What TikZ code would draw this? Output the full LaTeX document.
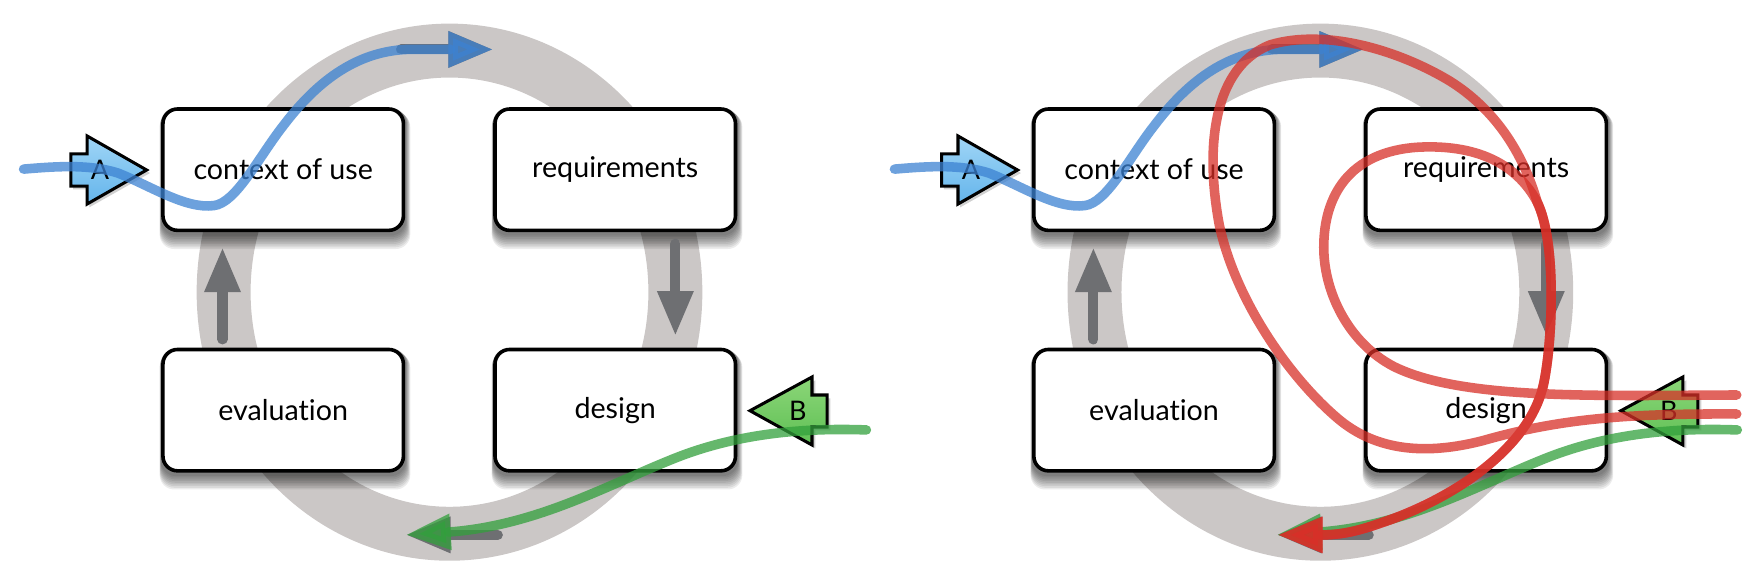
\documentclass[tikz,border=0pt]{standalone}
\usepackage{fontspec}
\setmainfont{Lato}[Ligatures=NoCommon]
\usetikzlibrary{arrows.meta}
\definecolor{ringgrey}{RGB}{203,199,198}
\definecolor{arrgrey}{RGB}{110,111,114}
\definecolor{flowblue}{RGB}{60,130,210}
\definecolor{flowgreen}{RGB}{50,160,60}
\definecolor{flowred}{RGB}{215,48,40}
\definecolor{mkbluetop}{RGB}{160,214,246}
\definecolor{mkbluebot}{RGB}{100,180,235}
\definecolor{mkgreentop}{RGB}{140,214,120}
\definecolor{mkgreenbot}{RGB}{95,192,85}
\pgfdeclarelayer{ringl}
\pgfdeclarelayer{shadowl}
\pgfsetlayers{ringl,shadowl,main}
\tikzset{
  ringst/.style={draw=ringgrey,line width=48pt},
  stagebox/.style={draw=black,line width=3.2pt,fill=white,rounded corners=13pt,
    minimum width=214pt,minimum height=108pt,inner sep=0pt,
    font=\fontsize{25.5pt}{29pt}\selectfont},
  cyc/.style={draw=arrgrey,line width=9pt,line cap=round,
    -{Triangle[length=40pt,width=30pt]}},
  flow/.style={line width=8.5pt,line cap=round,opacity=0.75,
    -{Triangle[length=40pt,width=30pt]}},
  marker/.style={draw=black,line width=2.7pt,line join=miter},
  mklabel/.style={inner sep=0pt,font=\fontsize{24pt}{27pt}\selectfont},
}
\begin{document}
\begin{tikzpicture}[x=1pt,y=-1pt]
\useasboundingbox (0,0) rectangle (1568,504.6);
\foreach \p/\dx in {L/0,R/775}{
\begin{scope}[xshift=\dx pt]
  % ring
  \begin{pgfonlayer}{ringl}
    \draw[ringst] (400,260) ellipse [x radius=201pt, y radius=215pt];
  \end{pgfonlayer}
  % cycle arrows
  \coordinate (t1\p) at (357,44);  \coordinate (t2\p) at (439,44);
  \coordinate (r1\p) at (601,217); \coordinate (r2\p) at (601,299);
  \coordinate (b1\p) at (443,476); \coordinate (b2\p) at (361,476);
  \coordinate (l1\p) at (198,302); \coordinate (l2\p) at (198,220);
  \draw[cyc] (t1\p) -- (t2\p);
  \draw[cyc] (r1\p) -- (r2\p);
  \draw[cyc] (b1\p) -- (b2\p);
  \draw[cyc] (l1\p) -- (l2\p);
  % boxes
  \node[stagebox] (ctx\p) at (252,151) {context of use};
  \node[stagebox] (req\p) at (547.5,151) {requirements};
  \node[stagebox] (eva\p) at (252,365) {evaluation};
  \node[stagebox] (des\p) at (547.5,365) {design};
  \begin{pgfonlayer}{shadowl}
    \foreach \n in {ctx\p,req\p,eva\p,des\p}{
      \foreach \k [evaluate=\k as \dy using 1.5+1.5*\k,
                   evaluate=\k as \ex using 0.5*\k] in {1,...,9}{
        \fill[black,opacity=0.075,rounded corners=13pt]
          ([xshift=-0.3*\ex pt,yshift=-\dy pt]\n.south west)
          rectangle ([xshift=\ex pt,yshift=-\ex pt]\n.north east);
      }
    }
  \end{pgfonlayer}
  % marker A
  \fill[black,opacity=0.18] (65,139.5) -- (79.5,139.5) -- (79.5,123.5) -- (133.5,154) --
     (79.5,184.5) -- (79.5,168.5) -- (65,168.5) -- cycle;
  \draw[marker,top color=mkbluetop,bottom color=mkbluebot]
     (63,137) -- (77.5,137) -- (77.5,121) -- (130.5,151.3) --
     (77.5,181.6) -- (77.5,165.6) -- (63,165.6) -- cycle;
  \node[mklabel] (A\p) at (89,151.3) {A};
  % marker B
  \fill[black,opacity=0.18] (670.4,368.5) -- (725.6,338.5) -- (725.6,354.5) -- (739,354.5) --
     (739,383) -- (725.6,383) -- (725.6,399) -- cycle;
  \draw[marker,top color=mkgreentop,bottom color=mkgreenbot]
     (667.4,365.5) -- (722.6,335.5) -- (722.6,351.5) -- (736,351.5) --
     (736,380) -- (722.6,380) -- (722.6,396) -- cycle;
  \node[mklabel] (B\p) at (710,366) {B};
  % blue flow
  \coordinate (bs\p) at (21,150.5);
  \draw[flow,draw=flowblue] (bs\p) .. controls (50,148) and (80,146) .. (105,154)
     .. controls (135,166) and (165,186) .. (190,183)
     .. controls (210,181) and (230,140) .. (252,112)
     .. controls (280,75) and (315,46) .. (362,44) -- (t2\p);
  % green flow
  \coordinate (gs\p) at (771,382.6);
  \draw[flow,draw=flowgreen] (gs\p) .. controls (700,380) and (645,390) .. (600,408)
     .. controls (540,432) and (480,466) .. (405,473) -- (b2\p);
\end{scope}
}
% red flows (right panel)
\coordinate (ra) at (1545.5,351.5);
\coordinate (rb) at (1545.5,368.4);
\coordinate (rt) at (1137,476);
\draw[flow,draw=flowred] (rb) .. controls (1450,368) and (1390,372) .. (1320,392)
   .. controls (1270,405) and (1225,402) .. (1190,372)
   .. controls (1150,338) and (1100,270) .. (1085,200)
   .. controls (1072,130) and (1080,60) .. (1130,40)
   .. controls (1180,25) and (1245,45) .. (1290,72)
   .. controls (1330,97) and (1355,135) .. (1368,180)
   .. controls (1385,215) and (1382,300) .. (1374,340)
   .. controls (1362,400) and (1290,445) .. (1230,465)
   .. controls (1210,472) and (1195,476) .. (1176,476) -- (rt);
\draw[flow,draw=flowred] (ra) .. controls (1420,352) and (1300,356) .. (1240,326)
   .. controls (1200,305) and (1178,260) .. (1178,220)
   .. controls (1178,175) and (1200,135) .. (1262,131)
   .. controls (1320,128) and (1352,150) .. (1368,180)
   .. controls (1385,215) and (1382,300) .. (1374,340)
   .. controls (1362,400) and (1290,445) .. (1230,465)
   .. controls (1210,472) and (1195,476) .. (1176,476) -- (rt);
\end{tikzpicture}
\end{document}
